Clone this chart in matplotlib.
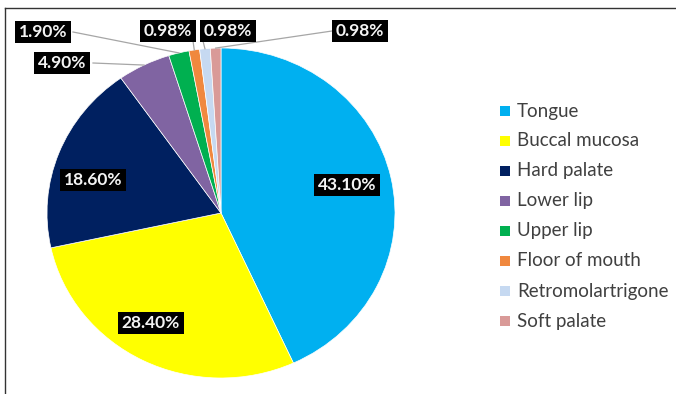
"""Distribution of oral cancer sites - pie chart with Excel-style callout labels."""

import matplotlib.pyplot as plt
from matplotlib.lines import Line2D
from matplotlib.patches import Rectangle
import numpy as np

sites = [
    "Tongue", "Buccal mucosa", "Hard palate", "Lower lip", "Upper lip",
    "Floor of mouth", "Retromolartrigone", "Soft palate",
]
shares = [43.10, 28.40, 18.60, 4.90, 1.90, 0.98, 0.98, 0.98]
colors = ["#00B0F0", "#FFFF00", "#002060", "#8064A2", "#00B050",
          "#F0883E", "#C6D9F1", "#D99A98"]

W, H = 676, 394
CX, CY, RX, RY = 221, 213, 174, 165  # pie centre / radii in pixels

# label centres (pixels), and where the leader line leaves the box (None = inside)
label_xy = [(347, 185), (151, 323), (93, 180), (62, 63), (43, 32),
            (168, 31), (228, 31), (360, 31)]
leader_from = [None, None, None, (93, 63), (73, 32), (193, 41), (203, 41), (332, 31)]

LABEL_FONT = ["Lato", "DejaVu Sans"]
INK, GREY = "#404040", "#A6A6A6"


def px(x, y):
    """pixel position (origin top-left) -> pie data coords"""
    return (x - CX) / RX, (CY - y) / RY


fig = plt.figure(figsize=(W / 100, H / 100), dpi=100)
ax = fig.add_axes([0, 0, 1, 1])
wedges, _ = ax.pie(
    shares, colors=colors, startangle=90, counterclock=False,
    wedgeprops=dict(edgecolor="white", linewidth=0.5),
)
ax.set_aspect("auto")
ax.set_xlim(-CX / RX, (W - CX) / RX)
ax.set_ylim(-(H - CY) / RY, CY / RY)
ax.axis("off")

for w, v, pos, start in zip(wedges, shares, label_xy, leader_from):
    if start is not None:
        mid = np.deg2rad((w.theta1 + w.theta2) / 2)
        ax.plot([px(*start)[0], np.cos(mid)], [px(*start)[1], np.sin(mid)],
                color=GREY, lw=0.9, zorder=3)
    ax.text(*px(*pos), f"{v:.2f}%", ha="center", va="center", color="#F4F4F4",
            fontsize=12.5, fontweight="bold", family=LABEL_FONT, zorder=4,
            bbox=dict(boxstyle="square,pad=0.2", fc="black", ec="none"))

# legend, drawn by hand in pixel positions
for i, (name, c) in enumerate(zip(sites, colors)):
    y = 111 + 30 * i
    ax.add_patch(Rectangle(px(500, y + 5), 10 / RX, 10 / RY, fc=c, ec="none",
                           clip_on=False))
    ax.text(*px(517, y), name, ha="left", va="center", color=INK,
            fontsize=13.5, family=LABEL_FONT)

# outer frame (only top and left edges show)
fig.add_artist(Line2D([5 / W, 1], [1 - 7.5 / H] * 2, color="#333333", lw=1.0))
fig.add_artist(Line2D([5 / W] * 2, [0, 1 - 7.5 / H], color="#333333", lw=1.0))

fig.savefig("out.png", dpi=100)
